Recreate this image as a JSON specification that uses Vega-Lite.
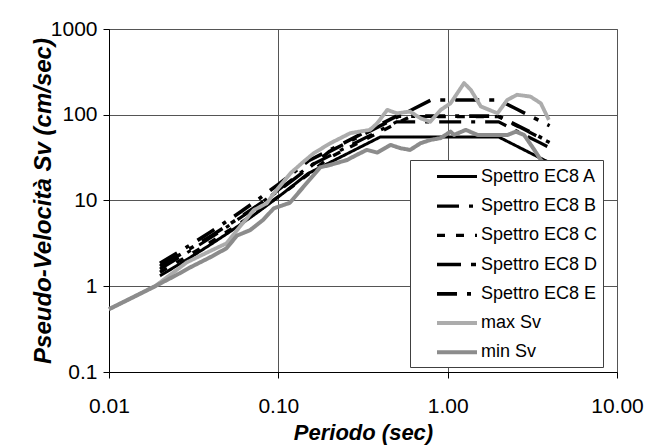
{
  "$schema": "https://vega.github.io/schema/vega-lite/v6.json",
  "width": 508,
  "height": 343,
  "autosize": {"type": "none"},
  "padding": {"left": 109, "top": 29, "right": 34, "bottom": 74},
  "background": "#ffffff",
  "datasets": {
    "ec8": [
      {"series": "Spettro EC8 A", "T": 0.02, "Sv": 1.322},
      {"series": "Spettro EC8 A", "T": 0.03, "Sv": 2.148},
      {"series": "Spettro EC8 A", "T": 0.04, "Sv": 3.084},
      {"series": "Spettro EC8 A", "T": 0.05, "Sv": 4.13},
      {"series": "Spettro EC8 A", "T": 0.06, "Sv": 5.287},
      {"series": "Spettro EC8 A", "T": 0.07, "Sv": 6.553},
      {"series": "Spettro EC8 A", "T": 0.08, "Sv": 7.93},
      {"series": "Spettro EC8 A", "T": 0.1, "Sv": 11.01},
      {"series": "Spettro EC8 A", "T": 0.12, "Sv": 14.54},
      {"series": "Spettro EC8 A", "T": 0.15, "Sv": 20.65},
      {"series": "Spettro EC8 A", "T": 0.4, "Sv": 55.07},
      {"series": "Spettro EC8 A", "T": 2.0, "Sv": 55.07},
      {"series": "Spettro EC8 A", "T": 2.5, "Sv": 44.06},
      {"series": "Spettro EC8 A", "T": 3.0, "Sv": 36.71},
      {"series": "Spettro EC8 A", "T": 3.5, "Sv": 31.47},
      {"series": "Spettro EC8 A", "T": 4.0, "Sv": 27.53},
      {"series": "Spettro EC8 B", "T": 0.02, "Sv": 1.586},
      {"series": "Spettro EC8 B", "T": 0.03, "Sv": 2.577},
      {"series": "Spettro EC8 B", "T": 0.04, "Sv": 3.701},
      {"series": "Spettro EC8 B", "T": 0.05, "Sv": 4.956},
      {"series": "Spettro EC8 B", "T": 0.06, "Sv": 6.344},
      {"series": "Spettro EC8 B", "T": 0.07, "Sv": 7.864},
      {"series": "Spettro EC8 B", "T": 0.08, "Sv": 9.516},
      {"series": "Spettro EC8 B", "T": 0.1, "Sv": 13.22},
      {"series": "Spettro EC8 B", "T": 0.12, "Sv": 17.44},
      {"series": "Spettro EC8 B", "T": 0.15, "Sv": 24.78},
      {"series": "Spettro EC8 B", "T": 0.5, "Sv": 82.6},
      {"series": "Spettro EC8 B", "T": 2.0, "Sv": 82.6},
      {"series": "Spettro EC8 B", "T": 2.5, "Sv": 66.08},
      {"series": "Spettro EC8 B", "T": 3.0, "Sv": 55.07},
      {"series": "Spettro EC8 B", "T": 3.5, "Sv": 47.2},
      {"series": "Spettro EC8 B", "T": 4.0, "Sv": 41.3},
      {"series": "Spettro EC8 C", "T": 0.02, "Sv": 1.457},
      {"series": "Spettro EC8 C", "T": 0.03, "Sv": 2.327},
      {"series": "Spettro EC8 C", "T": 0.04, "Sv": 3.293},
      {"series": "Spettro EC8 C", "T": 0.05, "Sv": 4.354},
      {"series": "Spettro EC8 C", "T": 0.06, "Sv": 5.51},
      {"series": "Spettro EC8 C", "T": 0.07, "Sv": 6.76},
      {"series": "Spettro EC8 C", "T": 0.08, "Sv": 8.106},
      {"series": "Spettro EC8 C", "T": 0.1, "Sv": 11.08},
      {"series": "Spettro EC8 C", "T": 0.12, "Sv": 14.44},
      {"series": "Spettro EC8 C", "T": 0.15, "Sv": 20.19},
      {"series": "Spettro EC8 C", "T": 0.2, "Sv": 31.66},
      {"series": "Spettro EC8 C", "T": 0.6, "Sv": 95.0},
      {"series": "Spettro EC8 C", "T": 2.0, "Sv": 95.0},
      {"series": "Spettro EC8 C", "T": 2.5, "Sv": 76.0},
      {"series": "Spettro EC8 C", "T": 3.0, "Sv": 63.3},
      {"series": "Spettro EC8 C", "T": 3.5, "Sv": 54.3},
      {"series": "Spettro EC8 C", "T": 4.0, "Sv": 47.5},
      {"series": "Spettro EC8 D", "T": 0.02, "Sv": 1.71},
      {"series": "Spettro EC8 D", "T": 0.03, "Sv": 2.732},
      {"series": "Spettro EC8 D", "T": 0.04, "Sv": 3.866},
      {"series": "Spettro EC8 D", "T": 0.05, "Sv": 5.111},
      {"series": "Spettro EC8 D", "T": 0.06, "Sv": 6.468},
      {"series": "Spettro EC8 D", "T": 0.07, "Sv": 7.936},
      {"series": "Spettro EC8 D", "T": 0.08, "Sv": 9.516},
      {"series": "Spettro EC8 D", "T": 0.1, "Sv": 13.01},
      {"series": "Spettro EC8 D", "T": 0.12, "Sv": 16.95},
      {"series": "Spettro EC8 D", "T": 0.15, "Sv": 23.7},
      {"series": "Spettro EC8 D", "T": 0.2, "Sv": 37.17},
      {"series": "Spettro EC8 D", "T": 0.8, "Sv": 148.7},
      {"series": "Spettro EC8 D", "T": 2.0, "Sv": 148.7},
      {"series": "Spettro EC8 D", "T": 2.5, "Sv": 119.0},
      {"series": "Spettro EC8 D", "T": 3.0, "Sv": 99.1},
      {"series": "Spettro EC8 D", "T": 3.5, "Sv": 85.0},
      {"series": "Spettro EC8 D", "T": 4.0, "Sv": 74.3},
      {"series": "Spettro EC8 E", "T": 0.02, "Sv": 1.85},
      {"series": "Spettro EC8 E", "T": 0.03, "Sv": 3.007},
      {"series": "Spettro EC8 E", "T": 0.04, "Sv": 4.317},
      {"series": "Spettro EC8 E", "T": 0.05, "Sv": 5.782},
      {"series": "Spettro EC8 E", "T": 0.06, "Sv": 7.401},
      {"series": "Spettro EC8 E", "T": 0.07, "Sv": 9.174},
      {"series": "Spettro EC8 E", "T": 0.08, "Sv": 11.1},
      {"series": "Spettro EC8 E", "T": 0.1, "Sv": 15.42},
      {"series": "Spettro EC8 E", "T": 0.12, "Sv": 20.35},
      {"series": "Spettro EC8 E", "T": 0.15, "Sv": 28.91},
      {"series": "Spettro EC8 E", "T": 0.5, "Sv": 96.37},
      {"series": "Spettro EC8 E", "T": 2.0, "Sv": 96.37},
      {"series": "Spettro EC8 E", "T": 2.5, "Sv": 77.1},
      {"series": "Spettro EC8 E", "T": 3.0, "Sv": 64.2},
      {"series": "Spettro EC8 E", "T": 3.5, "Sv": 55.1},
      {"series": "Spettro EC8 E", "T": 4.0, "Sv": 48.2}
    ],
    "rec": [
      {"series": "max Sv", "T": 0.01, "Sv": 0.54},
      {"series": "max Sv", "T": 0.0153, "Sv": 0.82},
      {"series": "max Sv", "T": 0.0187, "Sv": 1.0},
      {"series": "max Sv", "T": 0.0288, "Sv": 1.9},
      {"series": "max Sv", "T": 0.04, "Sv": 2.6},
      {"series": "max Sv", "T": 0.0494, "Sv": 3.16},
      {"series": "max Sv", "T": 0.0595, "Sv": 5.0},
      {"series": "max Sv", "T": 0.0715, "Sv": 7.7},
      {"series": "max Sv", "T": 0.0856, "Sv": 9.3},
      {"series": "max Sv", "T": 0.0938, "Sv": 12.0},
      {"series": "max Sv", "T": 0.118, "Sv": 20.8},
      {"series": "max Sv", "T": 0.141, "Sv": 28.4},
      {"series": "max Sv", "T": 0.162, "Sv": 35.6},
      {"series": "max Sv", "T": 0.203, "Sv": 46.6},
      {"series": "max Sv", "T": 0.266, "Sv": 61.0},
      {"series": "max Sv", "T": 0.348, "Sv": 66.7},
      {"series": "max Sv", "T": 0.384, "Sv": 79.8},
      {"series": "max Sv", "T": 0.44, "Sv": 114.0},
      {"series": "max Sv", "T": 0.5, "Sv": 104.0},
      {"series": "max Sv", "T": 0.6, "Sv": 109.0},
      {"series": "max Sv", "T": 0.69, "Sv": 91.0},
      {"series": "max Sv", "T": 0.79, "Sv": 83.0},
      {"series": "max Sv", "T": 0.91, "Sv": 114.0},
      {"series": "max Sv", "T": 1.04, "Sv": 136.0},
      {"series": "max Sv", "T": 1.25, "Sv": 234.0},
      {"series": "max Sv", "T": 1.37, "Sv": 195.0},
      {"series": "max Sv", "T": 1.57, "Sv": 125.0},
      {"series": "max Sv", "T": 1.97, "Sv": 104.0},
      {"series": "max Sv", "T": 2.25, "Sv": 149.0},
      {"series": "max Sv", "T": 2.57, "Sv": 171.0},
      {"series": "max Sv", "T": 3.08, "Sv": 163.0},
      {"series": "max Sv", "T": 3.55, "Sv": 136.0},
      {"series": "max Sv", "T": 3.96, "Sv": 87.0},
      {"series": "min Sv", "T": 0.01, "Sv": 0.54},
      {"series": "min Sv", "T": 0.0153, "Sv": 0.82},
      {"series": "min Sv", "T": 0.0187, "Sv": 1.0},
      {"series": "min Sv", "T": 0.025, "Sv": 1.35},
      {"series": "min Sv", "T": 0.03, "Sv": 1.65},
      {"series": "min Sv", "T": 0.04, "Sv": 2.2},
      {"series": "min Sv", "T": 0.0494, "Sv": 2.77},
      {"series": "min Sv", "T": 0.057, "Sv": 3.9},
      {"series": "min Sv", "T": 0.068, "Sv": 4.5},
      {"series": "min Sv", "T": 0.081, "Sv": 5.9},
      {"series": "min Sv", "T": 0.094, "Sv": 8.1},
      {"series": "min Sv", "T": 0.117, "Sv": 9.4},
      {"series": "min Sv", "T": 0.141, "Sv": 14.5},
      {"series": "min Sv", "T": 0.177, "Sv": 24.4},
      {"series": "min Sv", "T": 0.203, "Sv": 26.0},
      {"series": "min Sv", "T": 0.255, "Sv": 29.7},
      {"series": "min Sv", "T": 0.29, "Sv": 34.0},
      {"series": "min Sv", "T": 0.333, "Sv": 38.9},
      {"series": "min Sv", "T": 0.384, "Sv": 36.2},
      {"series": "min Sv", "T": 0.46, "Sv": 44.5},
      {"series": "min Sv", "T": 0.527, "Sv": 40.7},
      {"series": "min Sv", "T": 0.6, "Sv": 38.9},
      {"series": "min Sv", "T": 0.692, "Sv": 46.6},
      {"series": "min Sv", "T": 0.793, "Sv": 50.9},
      {"series": "min Sv", "T": 0.909, "Sv": 53.4},
      {"series": "min Sv", "T": 1.04, "Sv": 63.6},
      {"series": "min Sv", "T": 1.09, "Sv": 58.2},
      {"series": "min Sv", "T": 1.28, "Sv": 66.6},
      {"series": "min Sv", "T": 1.5, "Sv": 58.2},
      {"series": "min Sv", "T": 1.88, "Sv": 58.2},
      {"series": "min Sv", "T": 2.25, "Sv": 58.0},
      {"series": "min Sv", "T": 2.53, "Sv": 63.6},
      {"series": "min Sv", "T": 2.83, "Sv": 58.0},
      {"series": "min Sv", "T": 3.25, "Sv": 38.9},
      {"series": "min Sv", "T": 3.55, "Sv": 29.7},
      {"series": "min Sv", "T": 3.96, "Sv": 24.0}
    ]
  },
  "encoding": {
    "x": {
      "field": "T", "type": "quantitative",
      "scale": {"type": "log", "domain": [0.01, 10], "nice": false},
      "axis": {
        "title": "Periodo (sec)", "values": [0.01, 0.1, 1, 10], "format": ".2f",
        "labelFlush": false, "labelOverlap": false,
        "labelPadding": 17, "titleFontSize": 22, "titleBaseline": "alphabetic",
        "titleX": 254, "titleY": 67
      }
    },
    "y": {
      "field": "Sv", "type": "quantitative",
      "scale": {"type": "log", "domain": [0.1, 1000], "nice": false},
      "axis": {
        "title": "Pseudo-Velocità Sv (cm/sec)", "values": [0.1, 1, 10, 100, 1000], "format": "~g",
        "labelFlush": false, "labelOverlap": false,
        "labelPadding": 6, "titleFontSize": 24, "titleBaseline": "alphabetic",
        "titleX": -59, "titleY": 171.5
      }
    },
    "color": {
      "field": "series", "type": "nominal",
      "scale": {
        "domain": ["Spettro EC8 A", "Spettro EC8 B", "Spettro EC8 C", "Spettro EC8 D", "Spettro EC8 E", "max Sv", "min Sv"],
        "range": ["#000000", "#000000", "#000000", "#000000", "#000000", "#acacac", "#8c8c8c"]
      }
    },
    "strokeDash": {
      "field": "series", "type": "nominal",
      "scale": {
        "domain": ["Spettro EC8 A", "Spettro EC8 B", "Spettro EC8 C", "Spettro EC8 D", "Spettro EC8 E", "max Sv", "min Sv"],
        "range": [[1, 0], [22, 10, 4, 10], [8, 11], [24, 10, 5, 10], [20, 10, 4, 10], [1, 0], [1, 0]]
      }
    },
    "strokeWidth": {
      "field": "series", "type": "ordinal",
      "scale": {
        "domain": ["Spettro EC8 A", "Spettro EC8 B", "Spettro EC8 C", "Spettro EC8 D", "Spettro EC8 E", "max Sv", "min Sv"],
        "range": [3, 4, 4, 4, 4, 4, 3]
      }
    }
  },
  "layer": [
    {"data": {"name": "ec8"}, "mark": {"type": "line", "strokeCap": "butt"}},
    {"data": {"name": "rec"}, "mark": {"type": "line", "strokeCap": "butt", "strokeJoin": "round"}}
  ],
  "config": {
    "view": {"stroke": "#808080", "strokeWidth": 1},
    "axis": {
      "labelFont": "Liberation Sans", "labelFontSize": 21, "labelColor": "#000000",
      "domainColor": "#000000", "domainWidth": 1, "tickColor": "#000000", "tickSize": 6,
      "grid": true, "gridColor": "#555555", "gridWidth": 1,
      "titleFont": "Liberation Sans", "titleFontWeight": "bold", "titleFontStyle": "italic", "titleColor": "#000000"
    },
    "legend": {
      "orient": "none", "legendX": 301, "legendY": 131, "title": null,
      "symbolType": "M-2,0L2,0", "symbolSize": 400,
      "labelFont": "Liberation Sans", "labelFontSize": 18, "labelColor": "#000000", "labelLimit": 300,
      "fillColor": "#ffffff", "strokeColor": "#404040", "padding": 5,
      "rowPadding": 8.2, "symbolOffset": 30, "labelOffset": 12
    }
  }
}
